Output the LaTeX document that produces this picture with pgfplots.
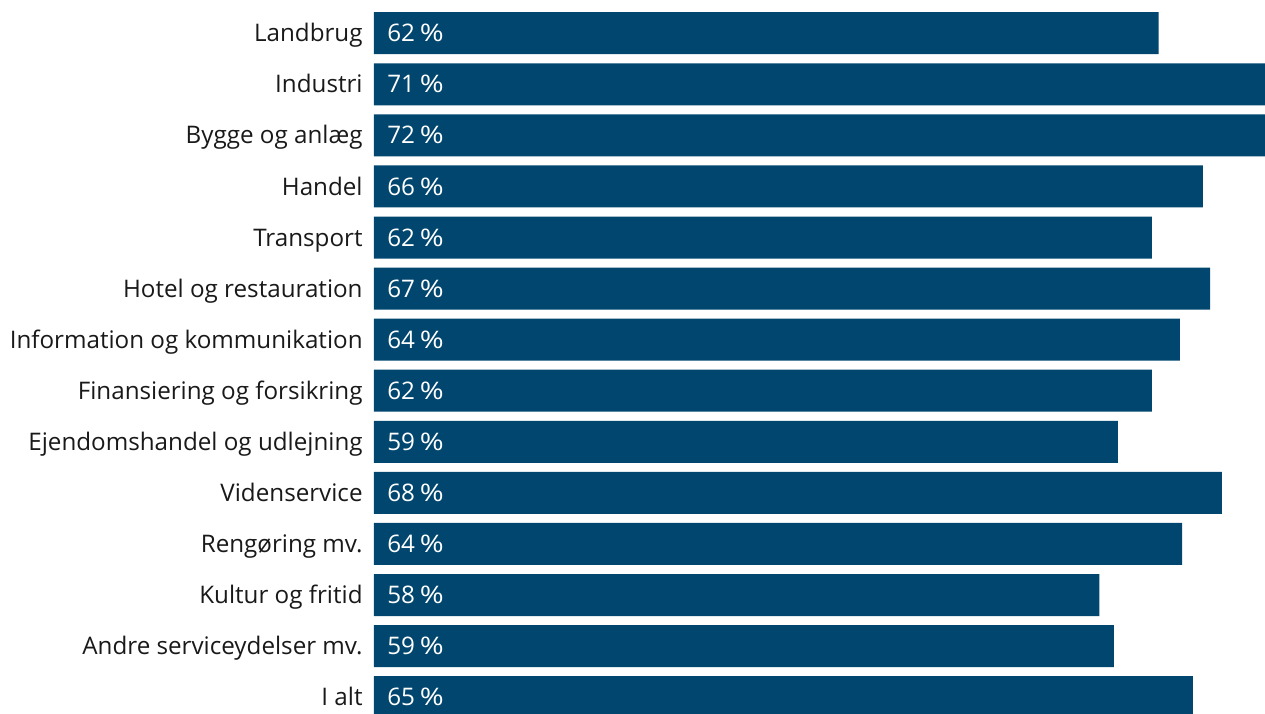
\documentclass[border=0pt]{standalone}
\usepackage{fontspec}
\setmainfont{Open Sans}
\usepackage{pgfplots}
\usepackage{pgfplotstable}
\pgfplotsset{compat=1.18}
\definecolor{barblue}{RGB}{0,70,110}
\definecolor{labtext}{RGB}{25,25,25}
\pgfplotstableread{
y v
0 62.49
1 71.05
2 72.00
3 66.02
4 61.96
5 66.58
6 64.19
7 61.96
8 59.25
9 67.53
10 64.35
11 57.76
12 58.93
13 65.22
}\data
\begin{document}
\begin{tikzpicture}
\begin{axis}[
  at={(0,0)}, anchor=south west,
  scale only axis, width=445.5pt, height=356.5pt,
  xmin=0, xmax=70.96, ymin=-0.65, ymax=13.31, y dir=reverse,
  axis line style={draw=none}, tick style={draw=none},
  xtick=\empty, ytick={0,...,13},
  yticklabels={Landbrug,Industri,Bygge og anlæg,Handel,Transport,Hotel og restauration,Information og kommunikation,Finansiering og forsikring,Ejendomshandel og udlejning,Videnservice,Rengøring mv.,Kultur og fritid,Andre serviceydelser mv.,I alt},
  yticklabel style={anchor=base east, inner sep=0pt, xshift=-5.5pt, yshift=-4.3pt, font=\fontsize{12.1}{14}\selectfont, text=labtext},
  /pgf/number format/assume math mode=true,
]
\addplot[xbar, bar width=21pt, draw=none, fill=barblue] table[x=v,y=y]{\data};
\addplot[draw=none, mark=none, point meta=explicit,
  nodes near coords={\pgfmathprintnumber[fixed,precision=0,assume math mode=true]{\pgfplotspointmeta}\hspace{0.2em}\scalebox{1.2}[1]{\%}},
  every node near coord/.style={anchor=base west, text=white, inner sep=0pt, xshift=6.5pt, yshift=-4.3pt, font=\fontsize{12.1}{14}\selectfont}]
  table[x expr=0, y=y, meta=v]{\data};
\end{axis}
\pgfresetboundingbox
\useasboundingbox (-187pt,0) rectangle (445.5pt,356.5pt);
\end{tikzpicture}
\end{document}
